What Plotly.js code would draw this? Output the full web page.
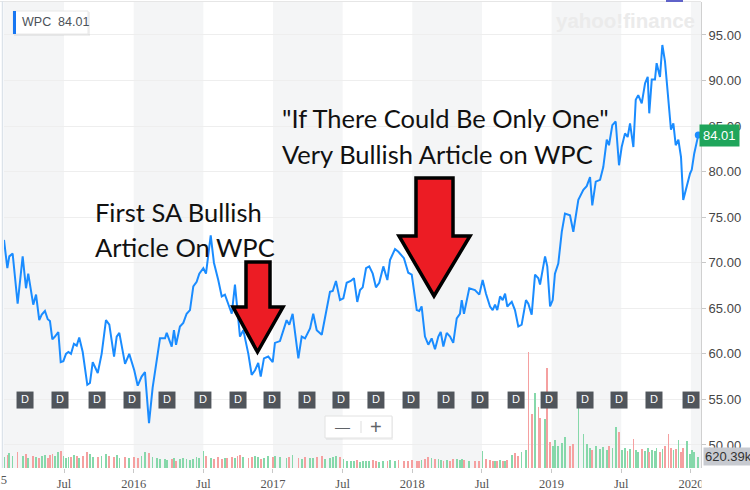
<!DOCTYPE html>
<html><head><meta charset="utf-8">
<script src="https://cdn.plot.ly/plotly-3.0.1.min.js"></script>
<style>html,body{margin:0;padding:0;background:#fff}#chart{width:750px;height:490px}</style>
</head><body><div id="chart"></div>
<script>
// Weekly closes (x in decimal years)
const years = [2015.069,2015.093,2015.107,2015.131,2015.167,2015.203,2015.227,2015.243,2015.279,2015.299,
2015.322,2015.340,2015.363,2015.383,2015.399,2015.416,2015.435,2015.459,2015.476,
2015.495,2015.514,2015.531,2015.550,2015.571,2015.591,2015.609,2015.634,2015.667,2015.686,
2015.706,2015.742,2015.770,2015.801,2015.825,2015.859,2015.878,2015.897,2015.938,2015.968,
2016.004,2016.029,2016.057,2016.081,2016.110,2016.136,2016.165,2016.189,2016.225,2016.237,
2016.273,2016.289,2016.304,2016.332,2016.356,2016.380,2016.404,2016.428,2016.452,2016.471,
2016.500,2016.519,2016.553,2016.576,2016.607,2016.632,2016.655,2016.672,2016.704,2016.727,
2016.744,2016.763,2016.787,2016.823,2016.847,2016.871,2016.894,2016.912,2016.935,2016.966,
2016.998,2017.014,2017.050,2017.098,2017.117,2017.141,2017.182,2017.206,2017.230,2017.266,
2017.289,2017.314,2017.350,2017.373,2017.409,2017.429,2017.452,2017.481,2017.505,2017.529,
2017.558,2017.581,2017.605,2017.625,2017.644,2017.668,2017.691,2017.716,2017.739,2017.763,
2017.792,2017.821,2017.840,2017.876,2017.900,2017.940,2017.971,2017.996,2018.032,2018.050,
2018.067,2018.091,2018.115,2018.139,2018.163,2018.187,2018.204,2018.223,2018.247,2018.271,
2018.294,2018.319,2018.342,2018.355,2018.371,2018.409,2018.450,2018.481,2018.505,2018.529,
2018.558,2018.577,2018.594,2018.610,2018.630,2018.649,2018.666,2018.682,2018.714,2018.737,
2018.761,2018.785,2018.816,2018.833,2018.857,2018.881,2018.905,2018.917,2018.953,2018.969,
2018.989,2019.008,2019.024,2019.048,2019.073,2019.096,2019.132,2019.156,2019.192,2019.228,
2019.252,2019.276,2019.292,2019.317,2019.348,2019.371,2019.396,2019.412,2019.436,2019.460,
2019.484,2019.503,2019.527,2019.546,2019.563,2019.587,2019.604,2019.622,2019.647,2019.671,
2019.690,2019.701,2019.719,2019.742,2019.754,2019.778,2019.795,2019.814,2019.838,2019.857,
2019.874,2019.891,2019.910,2019.929,2019.945,2019.970,2019.994,2020.006,2020.024,2020.053];

const prices = [72.5,69.4,70.7,71.0,65.5,70.7,67.2,68.8,65.4,66.5,
63.7,64.3,64.7,63.8,63.6,61.6,61.9,62.4,59.1,
59.2,60.0,60.2,60.0,61.1,60.9,61.8,60.2,56.6,56.8,
59.1,57.9,60.0,63.7,63.2,59.7,61.9,62.3,58.9,60.0,
58.2,56.5,57.5,58.0,52.4,56.3,59.3,61.7,61.7,62.3,
60.8,62.6,61.0,63.0,63.4,64.4,64.8,67.4,67.9,68.8,
69.4,68.8,73.0,70.0,68.1,66.3,66.5,65.7,64.4,67.6,
65.2,61.9,62.6,60.0,57.7,58.2,59.0,57.5,59.5,59.7,
59.1,61.2,61.4,63.7,63.2,64.4,59.5,61.9,61.7,62.8,
64.4,62.6,62.1,64.1,66.8,66.9,68.0,65.9,66.1,67.8,
68.0,68.3,65.7,67.0,67.3,69.4,69.6,68.8,67.3,67.8,
69.6,68.1,70.3,71.5,71.2,70.5,68.9,68.7,64.8,64.7,
65.2,61.9,61.0,61.7,60.5,61.9,62.4,60.8,62.3,61.9,
61.2,63.9,64.4,65.9,64.4,67.2,67.0,66.5,68.1,66.6,
65.2,64.8,65.4,64.8,66.3,65.9,66.6,65.2,65.7,64.8,
63.0,63.2,65.9,65.5,64.3,68.7,68.3,67.6,70.7,69.6,
65.2,65.9,68.8,69.9,73.4,75.4,75.2,73.4,76.9,78.0,
78.4,79.4,76.3,78.9,79.1,80.5,83.5,82.9,85.1,85.5,
80.7,82.7,84.2,83.8,85.3,82.7,87.9,88.4,87.5,89.7,
90.4,86.4,90.1,90.1,91.9,90.4,93.9,92.1,88.2,84.6,
85.3,82.9,83.5,81.6,76.9,78.4,79.8,80.2,82.0,84.01];

// Volume, thousands of shares
const volumes = [600,750,850,700,900,650,800,550,700,620,
580,680,750,560,720,800,650,900,950,700,
560,600,640,720,680,560,700,880,760,640,
620,700,780,660,600,740,560,620,580,
620,560,700,880,820,600,540,480,520,460,
500,560,420,480,540,500,460,520,600,560,
950,700,560,520,620,500,580,540,620,560,
680,720,600,560,640,700,600,520,560,700,640,
700,640,560,600,720,560,500,620,580,540,
600,660,520,560,640,700,620,480,420,400,
380,440,360,400,420,380,440,400,360,420,
380,460,400,440,380,420,460,
380,420,460,500,640,560,480,520,440,400,
460,420,520,480,440,500,460,420,380,400,
950,520,440,380,420,400,440,380,420,460,
750,820,700,900,
1000,6500,3000,4200,3400,2800,2750,5600,1450,
1250,1550,1250,1400,1750,1250,1350,3400,1900,1350,
1100,1000,1250,1050,1150,1000,1250,1100,2300,2000,
1000,1100,950,1050,1600,1000,900,1050,950,1100,
900,1000,950,1100,900,1050,1250,1900,1100,1000,
1050,1550,900,1100,1500,800,1000,900,620.39];

const dividendDates = [2015.220,2015.471,2015.737,2015.988,2016.239,2016.497,2016.749,2016.993,2017.244,2017.488,
2017.739,2017.991,2018.242,2018.486,2018.745,2018.982,2019.240,2019.484,2019.735,2020.001];

const xTickVals = [2015.5,2016,2016.5,2017,2017.5,2018,2018.5,2019,2019.5,2020];
const xTickText = ['Jul','2016','Jul','2017','Jul','2018','Jul','2019','Jul','2020'];
const bandYears = [2015,2016,2017,2018,2019,2020];

const ticker = 'WPC';
const lastPrice = prices[prices.length-1];
const lastVol = volumes[volumes.length-1];

// pixel -> paper helpers (plot area x 4..701, y 2..468)
const PL=4, PW=697, PB=468, PH=466;
const px = x => (x-PL)/PW;
const py = y => (PB-y)/PH;
const pathOf = pts => 'M' + pts.map(p => px(p[0]).toFixed(5)+','+py(p[1]).toFixed(5)).join(' L') + ' Z';

const volColors = prices.map((p,i) => (i===0 || p >= prices[i-1]) ? '#86d8aa' : '#f5a0a0');

const traces = [
  {type:'bar', x:years, y:volumes, yaxis:'y', marker:{color:volColors, line:{width:0}}, width:0.012, hoverinfo:'skip'},
  {type:'scatter', mode:'lines', x:years, y:prices, yaxis:'y2', line:{color:'#1a8cff', width:2}, hoverinfo:'skip'},
  {type:'scatter', mode:'markers+text', x:dividendDates, y:dividendDates.map(()=>54.93), yaxis:'y2',
   marker:{symbol:'square', size:17, color:'#50555b', line:{width:0}},
   text:dividendDates.map(()=>'D'), textposition:'middle center',
   textfont:{family:'Liberation Sans, Arial, sans-serif', size:11, color:'#ffffff'}, hoverinfo:'skip'},
  {type:'scatter', mode:'markers', x:[years[years.length-1]], y:[lastPrice], yaxis:'y2',
   marker:{size:7, color:'#1a8cff'}, hoverinfo:'skip'}
];

const shapes = [];
bandYears.forEach(y => shapes.push({type:'rect', xref:'x', yref:'paper', x0:y, x1:y+0.5, y0:0, y1:1,
  fillcolor:'#f4f5f6', line:{width:0}, layer:'below'}));
// frame lines
shapes.push({type:'line', xref:'paper', yref:'paper', x0:px(0), x1:1, y0:py(1.5), y1:py(1.5), line:{color:'#e6e6e6', width:1}});
shapes.push({type:'line', xref:'paper', yref:'paper', x0:px(2.5), x1:px(2.5), y0:0, y1:py(1), line:{color:'#dce3ea', width:1.5}});
shapes.push({type:'rect', xref:'paper', yref:'paper', x0:px(666), x1:px(683), y0:py(2), y1:py(0), fillcolor:'#5f62c9', line:{width:0}});
// legend box
shapes.push({type:'rect', xref:'paper', yref:'paper', x0:px(14), x1:px(90), y0:py(36), y1:py(12), fillcolor:'rgba(0,0,0,0.06)', line:{width:0}});
shapes.push({type:'rect', xref:'paper', yref:'paper', x0:px(13), x1:px(88), y0:py(34), y1:py(11), fillcolor:'#ffffff', line:{color:'#e8e8e8', width:1}});
shapes.push({type:'rect', xref:'paper', yref:'paper', x0:px(13), x1:px(16), y0:py(34), y1:py(11), fillcolor:'#1877f2', line:{width:0}});
// zoom control
shapes.push({type:'rect', xref:'paper', yref:'paper', x0:px(326), x1:px(393), y0:py(440), y1:py(417), fillcolor:'rgba(0,0,0,0.05)', line:{width:0}});
shapes.push({type:'rect', xref:'paper', yref:'paper', x0:px(325), x1:px(392), y0:py(438), y1:py(416), fillcolor:'#ffffff', line:{color:'#e2e2e2', width:1}});
shapes.push({type:'line', xref:'paper', yref:'paper', x0:px(361), x1:px(361), y0:py(433), y1:py(421), line:{color:'#dddddd', width:1}});
// arrows
shapes.push({type:'path', xref:'paper', yref:'paper', layer:'above',
  path:pathOf([[246,262],[270,262],[270,307],[283,307],[257.5,352],[233,307],[246,307]]),
  fillcolor:'#ec1c24', line:{color:'#000000', width:3.5}});
shapes.push({type:'path', xref:'paper', yref:'paper', layer:'above',
  path:pathOf([[416,178],[453,178],[453,236],[470,236],[434,296],[399,236],[416,236]]),
  fillcolor:'#ec1c24', line:{color:'#000000', width:3.5}});
// clip overflowing last x label
shapes.push({type:'rect', xref:'paper', yref:'paper', x0:px(701.5), x1:px(752), y0:py(492), y1:py(472), fillcolor:'#ffffff', line:{width:0}, layer:'above'});

const textFont = {family:'Lato, "Open Sans", sans-serif', size:25.5, color:'#111111'};
const annotations = [
  {xref:'paper', yref:'paper', x:px(20), y:py(22.5), xanchor:'left', yanchor:'middle', showarrow:false,
   text:ticker+'\u00A0\u00A0'+lastPrice.toFixed(2), font:{family:'Liberation Sans, Arial, sans-serif', size:12.5, color:'#4b5259'}},
  {xref:'paper', yref:'paper', x:px(625), y:py(20), xanchor:'center', yanchor:'middle', showarrow:false,
   text:'<b>yahoo!finance</b>', font:{family:'Liberation Sans, Arial, sans-serif', size:20.5, color:'#ebebeb'}},
  {xref:'paper', yref:'y2', x:px(699), y:lastPrice, xanchor:'left', yanchor:'middle', showarrow:false,
   text:lastPrice.toFixed(2), bgcolor:'#1fa55b', borderpad:3, font:{family:'Liberation Sans, Arial, sans-serif', size:13, color:'#ffffff'}},
  {xref:'paper', yref:'y', x:px(703), y:lastVol, xanchor:'left', yanchor:'middle', showarrow:false,
   text:lastVol.toFixed(2)+'k', bgcolor:'#c7cad0', borderpad:1, font:{family:'Liberation Sans, Arial, sans-serif', size:13, color:'#333333'}},
  {xref:'paper', yref:'paper', x:px(-5.6), y:py(480), xanchor:'center', yanchor:'middle', showarrow:false,
   text:'2015', font:{family:'Liberation Serif, serif', size:12.5, color:'#555555'}},
  {xref:'paper', yref:'paper', x:px(93), y:py(211.5), xanchor:'left', yanchor:'middle', showarrow:false, text:'First SA Bullish', font:textFont},
  {xref:'paper', yref:'paper', x:px(93), y:py(246.5), xanchor:'left', yanchor:'middle', showarrow:false, text:'Article On WPC', font:textFont},
  {xref:'paper', yref:'paper', x:px(280), y:py(118.3), xanchor:'left', yanchor:'middle', showarrow:false, text:'"If There Could Be Only One"', font:textFont},
  {xref:'paper', yref:'paper', x:px(280), y:py(154), xanchor:'left', yanchor:'middle', showarrow:false, text:'Very Bullish Article on WPC', font:textFont},
  {xref:'paper', yref:'paper', x:px(342), y:py(426.5), xanchor:'center', yanchor:'middle', showarrow:false, text:'\u2014', font:{family:'Liberation Sans, Arial, sans-serif', size:15, color:'#5f6368'}},
  {xref:'paper', yref:'paper', x:px(376), y:py(426.5), xanchor:'center', yanchor:'middle', showarrow:false, text:'+', font:{family:'Liberation Sans, Arial, sans-serif', size:20, color:'#5f6368'}}
];

const layout = {
  width:750, height:490,
  margin:{l:PL, r:49, t:2, b:22, pad:0},
  paper_bgcolor:'#ffffff', plot_bgcolor:'#ffffff',
  showlegend:false, hovermode:false, bargap:0,
  xaxis:{type:'linear', range:[2015.069, 2020.0725], tickmode:'array', tickvals:xTickVals, ticktext:xTickText,
    ticks:'outside', ticklen:4, tickcolor:'#c8c8c8', showgrid:false, zeroline:false, showline:false,
    tickfont:{family:'Liberation Serif, serif', size:12.5, color:'#555555'}},
  yaxis:{range:[0, 26100], visible:false, showgrid:false, zeroline:false, fixedrange:true},
  yaxis2:{overlaying:'y', side:'right', anchor:'x', range:[47.47, 98.62], tick0:50, dtick:5, tickformat:'.2f',
    ticks:'outside', ticklen:4, tickcolor:'#c8c8c8', showline:true, linecolor:'#d0d0d0', linewidth:1,
    showgrid:true, gridcolor:'#eeeeee', zeroline:false,
    tickfont:{family:'Liberation Sans, Arial, sans-serif', size:13, color:'#464646'}},
  shapes:shapes, annotations:annotations
};

Plotly.newPlot('chart', traces, layout, {displayModeBar:false, staticPlot:true});
</script>
</body></html>
